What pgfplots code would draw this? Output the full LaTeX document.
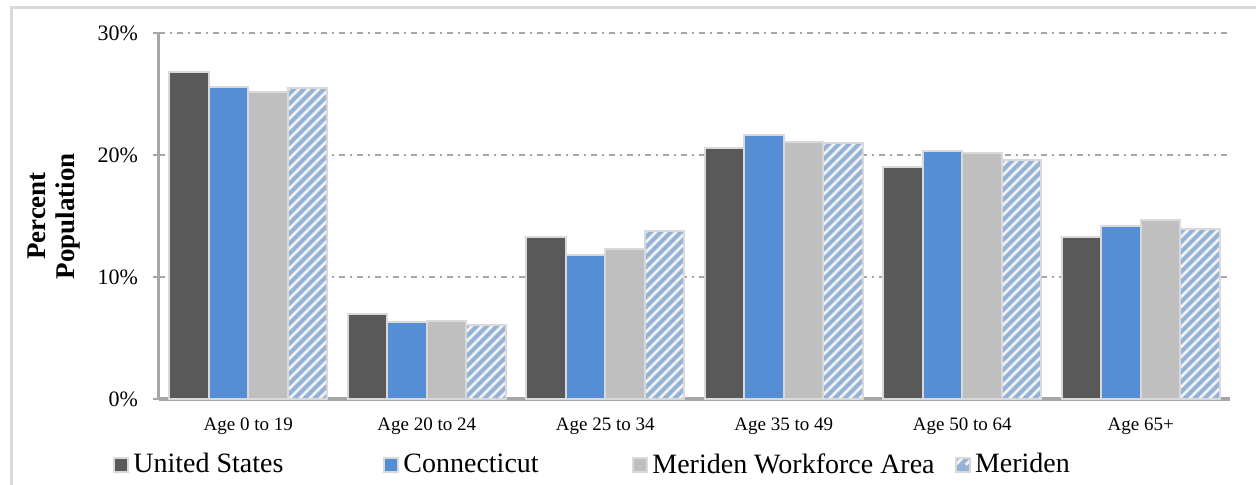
\documentclass[border=0pt]{standalone}
\usepackage{fontspec}
\setmainfont{Liberation Serif}
\usepackage{pgfplots}
\pgfplotsset{compat=1.18}
\definecolor{us}{HTML}{595959}
\definecolor{ct}{HTML}{558ED5}
\definecolor{mwa}{HTML}{BFBFBF}
\definecolor{mer}{HTML}{95B3D7}
\definecolor{stripe}{HTML}{F2F2F2}
\definecolor{bordergray}{HTML}{D9D9D9}
\definecolor{axisgray}{HTML}{A6A6A6}
\definecolor{framegray}{HTML}{D9D9D9}
\newcommand{\merstripes}{%
  \pgfsetstrokecolor{stripe}\pgfsetlinewidth{1.3pt}%
  \foreach \k in {-45,...,112}{%
    \pgfpathmoveto{\pgfpointadd{\pgfplotspointrelaxisxy{0}{0}}{\pgfpoint{\k*5pt}{0pt}}}%
    \pgfpathlineto{\pgfpointadd{\pgfplotspointrelaxisxy{0}{0}}{\pgfpoint{\k*5pt+210pt}{210pt}}}%
    \pgfusepath{stroke}}}
\begin{document}
\begin{tikzpicture}
\path[use as bounding box] (-79.5pt,-42.5pt) rectangle (548.5pt,199.5pt);
\draw[color=framegray, line width=1.5pt] (-73.75pt,-60pt) -- (-73.75pt,196pt) -- (560pt,196pt);
\begin{axis}[
  at={(0pt,0pt)}, anchor=south west,
  scale only axis, width=535.5pt, height=183pt,
  xmin=-0.5, xmax=5.5, ymin=0, ymax=30,
  ybar=0pt, bar width=19.75pt,
  xtick={0,1,2,3,4,5},
  xticklabels={Age 0 to 19, Age 20 to 24, Age 25 to 34, Age 35 to 49, Age 50 to 64, Age 65+},
  x tick style={draw=none},
  xticklabel style={font=\fontsize{9.5}{11}\selectfont, yshift=-3pt},
  ytick={0,10,20,30},
  yticklabels={0\%,10\%,20\%,30\%},
  yticklabel style={font=\fontsize{11}{13}\selectfont, xshift=-4pt},
  axis lines*=left,
  x axis line style={line width=2pt, color=axisgray},
  y axis line style={line width=1.5pt, color=axisgray},
  y tick style={color=axisgray, line width=0.75pt},
  tick align=outside, major tick length=3pt,
  ymajorgrids,
  grid style={color=axisgray, line width=0.75pt, dash pattern=on 3pt off 2.5pt on 1pt off 2.5pt},
  ylabel={Percent\\Population},
  every axis y label/.style={at={(axis description cs:-0.098,0.5)}, anchor=center, rotate=90, align=center, font=\bfseries\fontsize{13.5}{14.5}\selectfont},
  mylegend/.style={legend image code/.code={\draw[##1] (0pt,-3.5pt) rectangle (7pt,3.5pt);}},
  legend columns=4,
  legend cell align=left,
  legend style={draw=none, fill=none, at={(0,0)}, anchor=north west, xshift=-23pt, yshift=-25pt,
    font=\fontsize{14}{16}\selectfont, inner sep=0pt,
    /tikz/every even column/.append style={column sep=0pt}},
]
\addplot[fill=us, draw=bordergray, line width=1pt, mylegend] coordinates {(0,26.8) (1,7.0) (2,13.3) (3,20.6) (4,19.0) (5,13.3)};
\addplot[fill=ct, draw=bordergray, line width=1pt, mylegend] coordinates {(0,25.6) (1,6.3) (2,11.8) (3,21.6) (4,20.3) (5,14.2)};
\addplot[fill=mwa, draw=bordergray, line width=1pt, mylegend] coordinates {(0,25.2) (1,6.4) (2,12.3) (3,21.1) (4,20.2) (5,14.7)};
\addplot[fill=mer, draw=bordergray, line width=1pt, mylegend, path picture={\merstripes}]
  coordinates {(0,25.5) (1,6.1) (2,13.8) (3,21.0) (4,19.6) (5,13.9)};
\legend{\makebox[123pt][l]{United States}, \makebox[112.5pt][l]{Connecticut}, \makebox[149pt][l]{Meriden Workforce Area}, Meriden}
\end{axis}
\end{tikzpicture}
\end{document}
